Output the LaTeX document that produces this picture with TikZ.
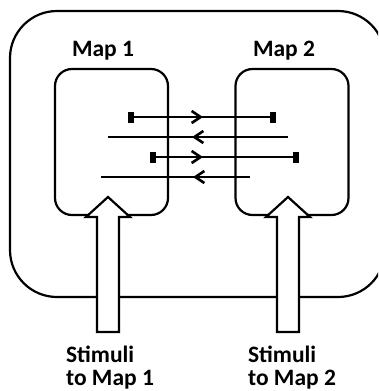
\documentclass[tikz,border=0pt]{standalone}
\usepackage{fontspec}
\setmainfont{Carlito}
\usetikzlibrary{arrows.meta,decorations.markings,calc}
\tikzset{chev/.tip={Straight Barb[length=9pt,width=12pt,line width=2.6pt]}}
\begin{document}
\begin{tikzpicture}[x=1pt,y=-1pt,line width=2.2pt,
  outerbox/.style={draw,rounded corners=47pt,minimum width=375pt,minimum height=286pt,inner sep=0pt},
  mapbox/.style={draw,rounded corners=17pt,minimum width=113pt,minimum height=146pt,inner sep=0pt},
  lbl/.style={font=\fontsize{23.5}{23.5}\selectfont\bfseries,inner sep=0pt},
  barend/.style={fill=black,draw=none,minimum width=6pt,minimum height=11pt,inner sep=0pt},
  midarrow/.style={postaction={decorate},decoration={markings,mark=at position #1 with {\arrow{chev}}}},
  blockarrow/.style={draw,fill=white,line width=2.2pt,line join=miter}
]
\useasboundingbox (0,0) rectangle (378,391);
\begin{scope}
\clip (0,0) rectangle (378,391);
\node[outerbox] (outer) at (197.5,154) {};
\end{scope}
\node[mapbox] (m1) at (111.5,142) {};
\node[mapbox] (m2) at (292,142) {};
\node[lbl] (l1) at (103,51) {Map 1};
\node[lbl] (l2) at (284,51) {Map 2};
% connector lines
\coordinate (a1) at (131,117); \coordinate (b1) at (273,117);
\coordinate (a2) at (288,137); \coordinate (b2) at (108,137);
\coordinate (a3) at (153,157); \coordinate (b3) at (296,157);
\coordinate (a4) at (250,177); \coordinate (b4) at (101,177);
\draw[midarrow=72pt] (a1) -- (b1);
\draw[midarrow=96pt] (a2) -- (b2);
\draw[midarrow=50pt] (a3) -- (b3);
\draw[midarrow=57pt] (a4) -- (b4);
\node[barend] (e1a) at (a1) {};
\node[barend] (e1b) at (b1) {};
\node[barend] (e3a) at (a3) {};
\node[barend] (e3b) at (b3) {};
% block arrows
\coordinate (s1) at (108,332); \coordinate (t1) at (108,197);
\coordinate (s2) at (288,332); \coordinate (t2) at (288,197);
\foreach \s/\t in {s1/t1,s2/t2}{
  \draw[blockarrow] ($(\s)+(-11,0)$) -- ($(\t)+(-11,20)$) -- ($(\t)+(-22,20)$) -- (\t)
    -- ($(\t)+(22,20)$) -- ($(\t)+(11,20)$) -- ($(\s)+(11,0)$) -- cycle;
}
\node[lbl,anchor=base west,align=left] (st1) at (65,385.5) {Stimuli\\to Map 1};
\node[lbl,anchor=base west,align=left] (st2) at (247,385.5) {Stimuli\\to Map 2};
\end{tikzpicture}
\end{document}
